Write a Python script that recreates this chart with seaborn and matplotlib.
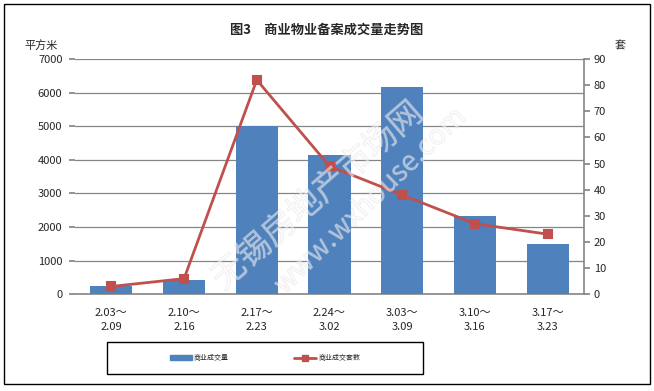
"""Commercial property filing transactions chart."""

import matplotlib.patheffects as pe
import matplotlib.pyplot as plt
import pandas as pd
import seaborn as sns
from matplotlib.lines import Line2D
from matplotlib.patches import Patch, Rectangle

weeks = ["2.03～\n2.09", "2.10～\n2.16", "2.17～\n2.23", "2.24～\n3.02",
         "3.03～\n3.09", "3.10～\n3.16", "3.17～\n3.23"]
area = [255, 425, 5020, 4150, 6180, 2330, 1500]   # 平方米
units = [3, 6, 82, 49, 38, 27, 23]                 # 套

BLUE = "#4F81BD"
RED = "#C0504D"
GRID = "#868686"

sns.set_theme(style="white")
plt.rcParams['font.family'] = ['Noto Sans CJK SC', 'DejaVu Sans']

df = pd.DataFrame({"week": weeks, "area": area, "units": units})

fig = plt.figure(figsize=(6.54, 3.91), dpi=100)
ax = fig.add_axes([75 / 654, 1 - 294.3 / 391, 509 / 654, 235.3 / 391])

sns.barplot(data=df, x="week", y="area", color=BLUE, width=0.58,
            saturation=1, linewidth=0, ax=ax, zorder=3)
ax.set_ylim(0, 7000)
ax.set_yticks(range(0, 7001, 1000))
ax.grid(axis="y", color=GRID, linewidth=0.9, zorder=0)
ax.set_axisbelow(True)
ax.set_xlabel("")
ax.set_ylabel("")
for side in ["left", "top", "right"]:
    ax.spines[side].set_visible(False)
ax.spines["bottom"].set_color(GRID)
ax.spines["bottom"].set_linewidth(1.2)
ax.tick_params(axis="y", left=True, length=4, color=GRID, labelsize=8, pad=5)
ax.tick_params(axis="x", bottom=False, labelsize=8, pad=4)
for lbl in ax.get_xticklabels():
    lbl.set_linespacing(1.45)

ax2 = ax.twinx()
sns.pointplot(data=df, x="week", y="units", color=RED, markers="s",
              markersize=6, linewidth=2, ax=ax2)
ax2.set_ylim(0, 90)
ax2.set_yticks(range(0, 91, 10))
ax2.set_ylabel("")
ax2.set_xlabel("")
for side in ["left", "top", "bottom"]:
    ax2.spines[side].set_visible(False)
ax2.spines["right"].set_color(GRID)
ax2.spines["right"].set_linewidth(1.2)
ax2.tick_params(axis="y", right=True, length=4, color=GRID, labelsize=8, pad=3)

# faint watermark
stroke = [pe.withStroke(linewidth=0.8, foreground="#c8c8c8")]
fig.text(318 / 654, 195 / 391, "无锡房地产市场网", fontsize=24, rotation=41,
         color="white", alpha=0.3, ha="center", va="center", zorder=10,
         path_effects=stroke)
fig.text(370 / 654, 190 / 391, "www.wxhouse.com", fontsize=20, rotation=44,
         color="white", alpha=0.3, ha="center", va="center", zorder=10,
         path_effects=stroke)

fig.text(327 / 654, 1 - 30 / 391, "图3　商业物业备案成交量走势图", fontsize=9.5,
         fontweight="bold", ha="center", va="center")
fig.text(41 / 654, 1 - 45 / 391, "平方米", fontsize=8, ha="center", va="center")
fig.text(620 / 654, 1 - 46 / 391, "套", fontsize=8, ha="center", va="center")

# outer border and legend box
fig.patches.append(Rectangle((4 / 654, 1 - 384 / 391), 646 / 654, 380 / 391,
                             transform=fig.transFigure, fill=False,
                             edgecolor="black", linewidth=1))
fig.patches.append(Rectangle((107 / 654, 1 - 374 / 391), 316 / 654, 32 / 391,
                             transform=fig.transFigure, fill=False,
                             edgecolor="black", linewidth=1))
handles = [Patch(color=BLUE),
           Line2D([], [], color=RED, linewidth=2, marker="s", markersize=4)]
fig.legend(handles, ["商业成交量", "商业成交套数"], loc="center",
           bbox_to_anchor=(265 / 654, 1 - 358 / 391), ncol=2, frameon=False,
           fontsize=5, handlelength=3.2, handleheight=0.6, handletextpad=0.3,
           columnspacing=9.4)

fig.savefig("out.png", dpi=100)
